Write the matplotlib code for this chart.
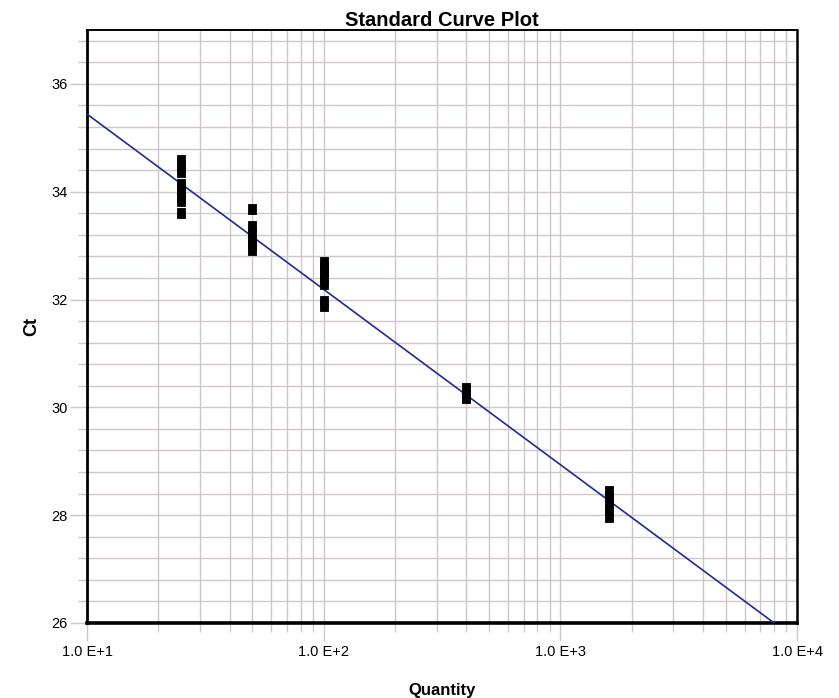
#!/usr/bin/env python3

import matplotlib
matplotlib.use('Agg')

import numpy                  as np
import matplotlib.pyplot      as plt
import matplotlib.ticker      as mticker

# ===== Data
ct_25     = [34.58, 34.47, 34.37, 34.15, 34.07, 33.99, 33.90, 33.82, 33.60]
qty_25    = [25]*len(ct_25)
ct_50     = [33.68, 33.36, 33.24, 33.13, 33.02, 32.91]
qty_50    = [50]*len(ct_50)
ct_100    = [32.70, 32.60, 32.49, 32.39, 32.29, 31.98, 31.88]
qty_100   = [100]*len(ct_100)
ct_400    = [30.35, 30.26, 30.17]
qty_400   = [400]*len(ct_400)
ct_1600   = [28.45, 28.33, 28.21, 28.09, 27.97]
qty_1600  = [1600]*len(ct_1600)

fit_qty   = [10, 8000]
fit_ct    = [35.44, 26.0]

xtick_val = [1e1, 1e2, 1e3, 1e4]
xtick_lab = ['1.0 E+1', '1.0 E+2', '1.0 E+3', '1.0 E+4']
ytick_val = [26, 28, 30, 32, 34, 36]

def go():
   plt.rcParams['font.family'] = ['Liberation Sans', 'DejaVu Sans']
   gridc = '#d2c6cc'

   fig = plt.figure(figsize=(8.39,6.98), dpi=100)
   ax  = fig.add_axes([0.1037, 0.1075, 0.8463, 0.8495])

   # Grid (minor every 0.4 Ct, every 1..9 per decade)
   ax.set_xscale('log')
   ax.set_xlim(10, 1e4)
   ax.set_ylim(26, 37)
   ax.xaxis.set_major_locator(mticker.FixedLocator(xtick_val))
   ax.xaxis.set_major_formatter(mticker.FixedFormatter(xtick_lab))
   ax.xaxis.set_minor_locator(mticker.LogLocator(base=10, subs=np.arange(2,10)))
   ax.xaxis.set_minor_formatter(mticker.NullFormatter())
   ax.yaxis.set_major_locator(mticker.FixedLocator(ytick_val))
   ax.yaxis.set_minor_locator(mticker.MultipleLocator(0.4))
   ax.grid(which='both', axis='y', color=gridc, linewidth=1.0)
   ax.grid(which='both', axis='x', color='#ccc6c9', linewidth=1.0)
   ax.set_axisbelow(True)

   ax.tick_params(which='major', direction='out', length=13, width=1.0, color=gridc,
                  labelsize=10.5, pad=3)
   ax.tick_params(which='minor', direction='out', length=6.5, width=1.0, color=gridc)
   ax.tick_params(axis='y', which='major', length=12, pad=2)

   # Spines
   for s,w in [('left',2.0),('bottom',2.6),('top',1.4),('right',1.8)]:
      ax.spines[s].set_linewidth(w)
      ax.spines[s].set_color('black')

   # Fit line
   ax.plot(fit_qty, fit_ct, color='#1f2a96', linewidth=1.2, zorder=3)

   # Replicates : small upright black blocks
   block = [(-0.45,-0.5),(0.45,-0.5),(0.45,0.5),(-0.45,0.5),(-0.45,-0.5)]
   for q,c in [(qty_25,ct_25),(qty_50,ct_50),(qty_100,ct_100),(qty_400,ct_400),(qty_1600,ct_1600)]:
      ax.plot(q, c, linestyle='none', marker=block, markersize=7.0,
              markerfacecolor='black', markeredgecolor='black', markeredgewidth=0.6,
              zorder=4)

   # Labels & title
   ax.set_title('Standard Curve Plot', fontsize=14.5, fontweight='bold', pad=3)
   ax.set_xlabel('Quantity', fontsize=12, fontweight='bold', labelpad=17)
   ax.set_ylabel('Ct', fontsize=13, fontweight='bold', labelpad=8)

   plt.savefig('out.png', dpi=100)
   plt.close()
   return

go()
